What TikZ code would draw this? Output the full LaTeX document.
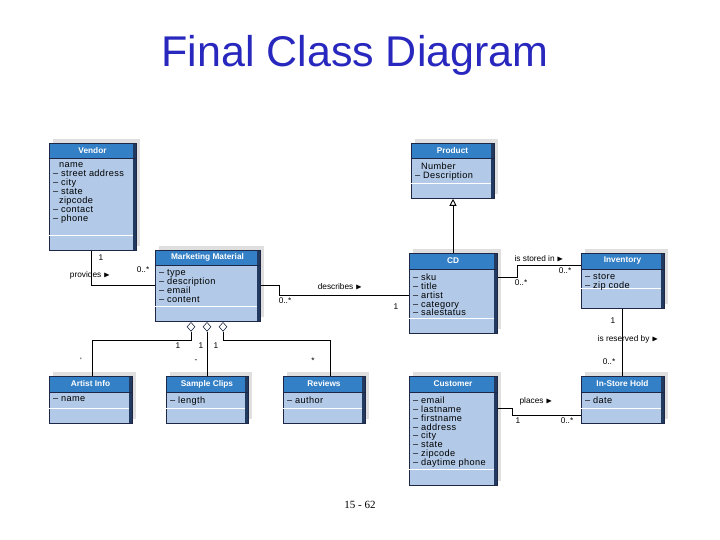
\documentclass[tikz,border=0pt]{standalone}
\usepackage{amssymb}
\usepackage{fontspec}
\setmainfont{Liberation Sans}
\usetikzlibrary{shapes.geometric,arrows.meta,calc}
\definecolor{body}{RGB}{178,202,232}
\definecolor{head}{RGB}{52,128,198}
\definecolor{edge}{RGB}{30,40,70}
\definecolor{ttl}{RGB}{40,40,190}
\tikzset{
 lbl/.style={font=\fontsize{8.3}{9}\selectfont,inner sep=0pt},
 conn/.style={line width=0.9pt},
}
% name x1 y1 x2 y2 headerbottom sep title attrs
\newcommand{\umlcls}[9]{%
 \fill[gray!25] (#2+4,#3-4) rectangle (#4+4,#5-4);
 \node[draw=edge,line width=0.8pt,fill=body,anchor=north west,inner sep=0pt,minimum width=#4-#2,minimum height=#5-#3] (#1) at (#2,#3) {};
 \fill[head] (#2,#3) rectangle (#4,#6);
 \fill[edge!80!head] (#4-3,#3) rectangle (#4,#5);
 \draw[edge,line width=0.8pt] (#2,#3) rectangle (#4,#5) (#2,#6) -- (#4,#6);
 \draw[white,line width=0.6pt] (#2,#7) -- (#4-3,#7);
 \node[white,font=\bfseries\fontsize{8.3}{9}\selectfont] at ({(#2+#4)/2},{(#3+#6)/2}) {#8};
 \node[anchor=north west,align=left,inner sep=0pt,font=\fontsize{9.2}{8.9}\selectfont\addfontfeatures{LetterSpace=4}] at (#2+4,#6+4.5) {#9};
}
\begin{document}
\begin{tikzpicture}[x=1pt,y=-1pt]
\useasboundingbox (0,0) rectangle (720,540);
\node[ttl,font=\fontsize{43}{46}\selectfont] (title) at (355,55) {Final Class Diagram};
\node[font=\fontsize{11}{12}\selectfont] (page) at (360,505) {\fontspec{Liberation Serif}15 - 62};

\umlcls{vendor}{49}{143}{136}{250}{158}{235}{Vendor}{\ \ name\\-- street address\\-- city\\-- state\\\ \ zipcode\\-- contact\\-- phone}
\umlcls{mm}{155}{250}{260}{321}{265}{306}{Marketing Material}{-- type\\-- description\\-- email\\-- content}
\umlcls{product}{411}{143}{494}{198}{158}{183}{Product}{\ \ Number\\-- Description}
\umlcls{cd}{409}{253}{497}{333}{269}{318}{CD}{-- sku\\-- title\\-- artist\\-- category\\-- salestatus}
\umlcls{inv}{581}{253}{664}{308}{269}{288}{Inventory}{-- store\\-- zip code}
\umlcls{artist}{49}{376}{132}{423}{392}{408}{Artist Info}{-- name}
\umlcls{clips}{166}{376}{248}{423}{392}{408}{Sample Clips}{-- length}
\umlcls{reviews}{283}{376}{365}{423}{392}{408}{Reviews}{-- author}
\umlcls{cust}{409}{376}{497}{485}{392}{469}{Customer}{-- email\\-- lastname\\-- firstname\\-- address\\-- city\\-- state\\-- zipcode\\-- daytime phone}
\umlcls{hold}{581}{376}{664}{423}{392}{408}{In-Store Hold}{-- date}

% Vendor - MM
\draw[conn] (vendor.south -| 91,0) |- (mm.west |- 0,285);
\node[lbl] (l1) at (101,258) {1};
\node[lbl] (l2) at (90,275) {provides $\blacktriangleright$};
\node[lbl] (l3) at (143,270) {0..*};
% MM - CD
\draw[conn] (mm.east |- 0,285) -- (279,285) -- (279,295) -- (cd.west |- 0,295);
\node[lbl] (l4) at (340,287) {describes $\blacktriangleright$};
\node[lbl] (l5) at (285,301) {0..*};
\node[lbl] (l6) at (396,307) {1};
% generalization
\draw[conn,-{Triangle[open,length=7pt,width=7pt]}] (cd.north -| 453,0) -- (product.south -| 453,0);
% CD - Inventory
\draw[conn] (cd.east |- 0,277) -- (517,277) -- (517,265) -- (inv.west |- 0,265);
\node[lbl] (l7) at (539,259) {is stored in $\blacktriangleright$};
\node[lbl] (l8) at (565,271) {0..*};
\node[lbl] (l9) at (521,283) {0..*};
% Inventory - Hold
\draw[conn] (inv.south -| 622,0) -- (hold.north -| 622,0);
\node[lbl] (l10) at (613,321) {1};
\node[lbl] (l11) at (628,339) {is reserved by $\blacktriangleright$};
\node[lbl] (l12) at (609,362) {0..*};
% Customer - Hold
\draw[conn] (cust.east |- 0,408) -- (512,408) -- (512,415) -- (hold.west |- 0,415);
\node[lbl] (l13) at (536,401) {places $\blacktriangleright$};
\node[lbl] (l14) at (518,421) {1};
\node[lbl] (l15) at (567,421) {0..*};
% aggregations
\foreach \n/\x in {d1/191,d2/207,d3/223}
  \node[diamond,draw=edge,fill=white,line width=0.6pt,inner sep=0pt,minimum width=8pt,minimum height=9pt,anchor=north] (\n) at (\x,322) {};
\draw[conn] (d1.south) -- (191,340) -- (92,340) -- (artist.north -| 92,0);
\draw[conn] (d2.south) -- (clips.north -| 207,0);
\draw[conn] (d3.south) -- (223,340) -- (330,340) -- (reviews.north -| 330,0);
\node[lbl] (l16) at (178,346) {1};
\node[lbl] (l17) at (201,346) {1};
\node[lbl] (l18) at (216,346) {1};
\node[lbl] (l19) at (81,361) {`};
\node[lbl] (l20) at (196,361) {-};
\node[lbl] (l21) at (313,361) {*};
\end{tikzpicture}
\end{document}
